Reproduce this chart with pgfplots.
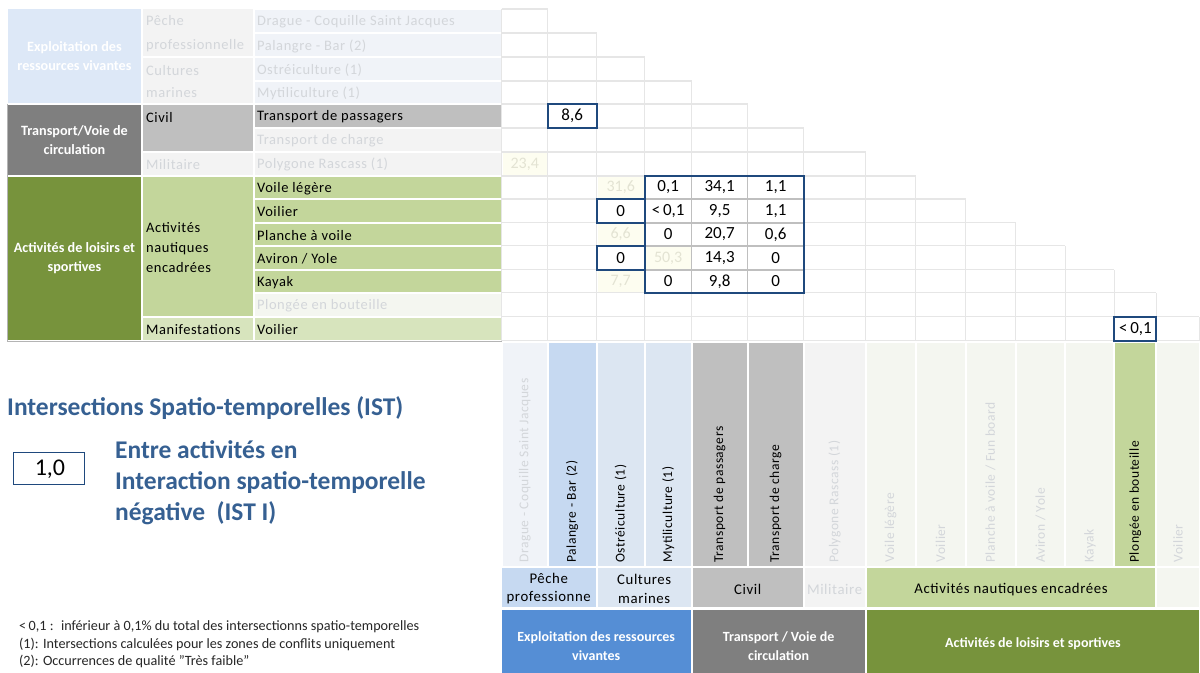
\documentclass[border=0pt]{standalone}
\usepackage{pgfplots}
\pgfplotsset{compat=1.18}
\usepackage{pgfplotstable}
\usepackage{fontspec}
\setmainfont{Carlito}
\newfontfamily\tabfont[LetterSpace=4]{Carlito}
\definecolor{bA}{HTML}{558ED5}
\definecolor{bB}{HTML}{C6D9F1}
\definecolor{bC}{HTML}{DCE6F2}
\definecolor{gA}{HTML}{7F7F7F}
\definecolor{gB}{HTML}{BFBFBF}
\definecolor{vA}{HTML}{77933C}
\definecolor{vB}{HTML}{C3D69B}
\definecolor{vC}{HTML}{D7E4BD}
\definecolor{fBA}{HTML}{DDE8F7}
\definecolor{fB}{HTML}{F0F3F8}
\definecolor{fG}{HTML}{F3F3F3}
\definecolor{fV}{HTML}{F4F6F0}
\definecolor{fT}{HTML}{D3D6DA}
\definecolor{fY}{HTML}{FDFDF0}
\definecolor{fYt}{HTML}{E3E3D3}
\definecolor{navy}{HTML}{1F497D}
\definecolor{ttl}{HTML}{366092}
\definecolor{gridc}{HTML}{E6E6E6}
\definecolor{ing}{HTML}{BFBFBF}
\definecolor{shd}{HTML}{B4B4B4}

\pgfplotstableread{
x y lab
572.5 116 8,6
668.5 187.5 0,1
720 187.5 34,1
776 187.5 1,1
621 211 0
668.5 211 <\,0,1
720 211 9,5
776 211 1,1
668.5 234.5 0
720 234.5 20,7
776 234.5 0,6
621 258 0
720 258 14,3
776 258 0
668.5 281.5 0
720 281.5 9,8
776 281.5 0
1136 329 <\,0,1
}\vals

\pgfplotstableread{
x y lab
525 164 23,4
621 187.5 31,6
621 234.5 6,6
668.5 258 50,3
621 281.5 7,7
}\fadedvals

\tikzset{
  tl/.style={anchor=west, inner sep=0pt, font=\tabfont\fontsize{14.5}{19}\selectfont},
  rl/.style={anchor=west, rotate=90, inner sep=0pt, font=\tabfont\fontsize{13.5}{16}\selectfont},
  l1/.style={align=center, inner sep=0pt, text=white, font=\bfseries\fontsize{14.2}{19.5}\selectfont},
  l2/.style={anchor=west, align=left, inner sep=0pt, font=\tabfont\fontsize{14.5}{20}\selectfont},
  b2/.style={align=center, inner sep=0pt, font=\tabfont\fontsize{14.8}{18.5}\selectfont},
  b1/.style={align=center, inner sep=0pt, text=white, font=\bfseries\fontsize{14}{19}\selectfont},
}

\begin{document}
\begin{tikzpicture}
\begin{axis}[x=1pt, y=1pt, xmin=0, xmax=1200, ymin=0, ymax=673, y dir=reverse,
  hide axis, clip=false]
\path (0,0) rectangle (1200,673);

% ---------- left table: level 1
\fill[fBA] (8,9) rectangle (141,103);
\node[l1] at (74.5,56) {Exploitation des\\ressources vivantes};
\fill[gA] (8,105) rectangle (141,175);
\node[l1] at (74.5,140) {Transport/Voie de\\circulation};
\fill[vA] (8,177) rectangle (141,340);
\node[l1] at (74.5,258) {Activités de loisirs et\\sportives};
\draw[shd, line width=1.5] (7.5,104) -- (7.5,341.5) -- (502,341.5);

% ---------- left table: level 2
\fill[fG] (143,9) rectangle (253,56);
\node[l2, text=fT, font=\tabfont\fontsize{14.5}{24}\selectfont] at (146,34) {Pêche\\professionnelle};
\fill[fG] (143,58) rectangle (253,103);
\node[l2, text=fT, font=\tabfont\fontsize{14.5}{22}\selectfont] at (146,82) {Cultures\\marines};
\fill[gB] (143,105) rectangle (253,151);
\node[l2] at (146,118) {Civil};
\fill[fG] (143,153) rectangle (253,175);
\node[l2, text=fT] at (146,164.5) {Militaire};
\fill[vB] (143,177) rectangle (253,316);
\node[l2] at (146,248) {Activités\\nautiques\\encadrées};
\fill[vC] (143,318) rectangle (253,340);
\node[l2] at (146,329.5) {Manifestations};

% ---------- left table: level 3
\fill[fB] (255,10) rectangle (501,32);
\fill[fB] (255,34) rectangle (501,56);
\fill[fB] (255,58) rectangle (501,80);
\fill[fB] (255,82) rectangle (501,103);
\fill[gB] (255,105) rectangle (501,127);
\fill[fG] (255,129) rectangle (501,151);
\fill[fG] (255,153) rectangle (501,175);
\fill[vB] (255,177) rectangle (501,198);
\fill[vB] (255,200) rectangle (501,222);
\fill[vB] (255,224) rectangle (501,245);
\fill[vB] (255,247) rectangle (501,269);
\fill[vB] (255,271) rectangle (501,292);
\fill[fV] (255,294) rectangle (501,316);
\fill[vC] (255,318) rectangle (501,340);
\node[tl, text=fT] at (257,22) {Drague - Coquille Saint Jacques};
\node[tl, text=fT] at (257,46) {Palangre - Bar (2)};
\node[tl, text=fT] at (257,70) {Ostréiculture (1)};
\node[tl, text=fT] at (257,93.5) {Mytiliculture (1)};
\node[tl] at (257,117) {Transport de passagers};
\node[tl, text=fT] at (257,141) {Transport de charge};
\node[tl, text=fT] at (257,165) {Polygone Rascass (1)};
\node[tl] at (257,188.5) {Voile légère};
\node[tl] at (257,212) {Voilier};
\node[tl] at (257,235.5) {Planche à voile};
\node[tl] at (257,259) {Aviron / Yole};
\node[tl] at (257,282.5) {Kayak};
\node[tl, text=fT] at (257,306) {Plongée en bouteille};
\node[tl] at (257,330) {Voilier};

% ---------- triangular matrix grid
\draw[gridc, line width=1.2]
  (502,9) -- (548,9)  (502,33) -- (597,33)  (502,57) -- (645,57)
  (502,81) -- (692,81)  (502,104) -- (748,104)  (502,128) -- (804,128)
  (502,152) -- (866,152)  (502,176) -- (916,176)  (502,199) -- (966,199)
  (502,223) -- (1016,223)  (502,246) -- (1066,246)  (502,270) -- (1115,270)
  (502,293) -- (1157,293)  (502,317) -- (1200,317)  (502,341) -- (1200,341)
  (502,9) -- (502,341)  (548,9) -- (548,341)  (597,33) -- (597,341)
  (645,57) -- (645,341)  (692,81) -- (692,341)  (748,104) -- (748,341)
  (804,128) -- (804,341)  (866,152) -- (866,341)  (916,176) -- (916,341)
  (966,199) -- (966,341)  (1016,223) -- (1016,341)  (1066,246) -- (1066,341)
  (1115,270) -- (1115,341)  (1157,293) -- (1157,341)  (1200,317) -- (1200,341);

% faded cells
\fill[fY] (503,153) rectangle (547,175);
\fill[fY] (598,177) rectangle (644,198);
\fill[fY] (598,224) rectangle (644,245);
\fill[fY] (646,247) rectangle (691,269);
\fill[fY] (598,271) rectangle (644,292);

% inner grey lines of the block
\draw[ing, line width=1.6] (692,176) -- (692,293) (748,176) -- (748,293)
  (645,199) -- (804,199) (645,223) -- (804,223) (645,246) -- (804,246) (645,270) -- (804,270);

% values
\addplot[draw=none, mark=none, nodes near coords, point meta=explicit symbolic,
  every node near coord/.append style={anchor=center, inner sep=0pt, text=black,
  font=\fontsize{17}{19}\selectfont}]
  table[x=x, y=y, meta=lab] {\vals};
\addplot[draw=none, mark=none, nodes near coords, point meta=explicit symbolic,
  every node near coord/.append style={anchor=center, inner sep=0pt, text=fYt,
  font=\fontsize{16}{19}\selectfont}]
  table[x=x, y=y, meta=lab] {\fadedvals};

% boxes
\draw[navy, line width=2] (548,104) rectangle (597,128);
\draw[navy, line width=2] (645,176) rectangle (804,293);
\draw[navy, line width=2] (645,199) -- (597,199) -- (597,223) -- (645,223);
\draw[navy, line width=2] (645,246) -- (597,246) -- (597,270) -- (645,270);
\draw[navy, line width=2] (1115,317) rectangle (1157,341);

% ---------- bottom: rotated labels
\fill[fB] (503,343) rectangle (547,566);
\fill[bB] (549,343) rectangle (596,566);
\fill[bC] (598,343) rectangle (644,566);
\fill[bC] (646,343) rectangle (691,566);
\fill[gB] (693,343) rectangle (747,566);
\fill[gB] (749,343) rectangle (803,566);
\fill[fG] (805,343) rectangle (865,566);
\fill[fV] (867,343) rectangle (915,566);
\fill[fV] (917,343) rectangle (965,566);
\fill[fV] (967,343) rectangle (1015,566);
\fill[fV] (1017,343) rectangle (1065,566);
\fill[fV] (1067,343) rectangle (1114,566);
\fill[vB] (1116,343) rectangle (1156,566);
\fill[fV] (1158,343) rectangle (1200,566);
\node[rl, text=fT] at (525,563) {Drague - Coquille Saint Jacques};
\node[rl] at (572.5,563) {Palangre - Bar (2)};
\node[rl] at (621,563) {Ostréiculture (1)};
\node[rl] at (668.5,563) {Mytiliculture (1)};
\node[rl] at (720,563) {Transport de passagers};
\node[rl] at (776,563) {Transport de charge};
\node[rl, text=fT] at (835,563) {Polygone Rascass (1)};
\node[rl, text=fT] at (891,563) {Voile légère};
\node[rl, text=fT] at (941,563) {Voilier};
\node[rl, text=fT] at (991,563) {Planche à voile / Fun board};
\node[rl, text=fT] at (1041,563) {Aviron / Yole};
\node[rl, text=fT] at (1090.5,563) {Kayak};
\node[rl] at (1136,563) {Plongée en bouteille};
\node[rl, text=fT] at (1178.5,563) {Voilier};

% bottom level 2
\fill[bB] (502,568) rectangle (596,607);
\node[b2] at (549,589) {Pêche\\professionne};
\fill[bC] (598,568) rectangle (691,607);
\node[b2] at (644.5,589) {Cultures\\marines};
\fill[gB] (693,568) rectangle (803,607);
\node[b2] at (748,590) {Civil};
\fill[fG] (805,568) rectangle (865,607);
\node[b2, text=fT] at (835,590) {Militaire};
\fill[vB] (867,568) rectangle (1156,607);
\node[b2] at (1011.5,590) {Activités nautiques encadrées};
\fill[fV] (1158,568) rectangle (1200,607);

% bottom level 1
\fill[bA] (502,610) rectangle (691,673);
\node[b1] at (596.5,646) {Exploitation des ressources\\vivantes};
\fill[gA] (693,610) rectangle (865,673);
\node[b1] at (779,646) {Transport / Voie de\\circulation};
\fill[vA] (867,610) rectangle (1200,673);
\node[b1] at (1033.5,644) {Activités de loisirs et sportives};

% ---------- legend block
\node[anchor=west, inner sep=0pt, text=ttl, font=\bfseries\fontsize{25.5}{28}\selectfont] at (7,408) {Intersections Spatio-temporelles (IST)};
\draw[navy, line width=1.5] (13.5,452.5) rectangle (84.5,484.5);
\node[inner sep=0pt, font=\fontsize{24}{26}\selectfont] at (50,469) {1,0};
\node[anchor=west, align=left, inner sep=0pt, text=ttl, font=\bfseries\fontsize{25.5}{31}\selectfont] at (115,483) {Entre activités en\\Interaction spatio-temporelle\\négative~ (IST I)};
\node[anchor=west, align=left, inner sep=0pt, text=black!85, font=\fontsize{14.2}{17.5}\selectfont] at (19,645) {<\,0,1 :~ inférieur à 0,1\% du total des intersectionns spatio-temporelles\\(1): Intersections calculées pour les zones de conflits uniquement\\(2): Occurrences de qualité \symbol{34}Très faible\symbol{34}};
\end{axis}
\end{tikzpicture}
\end{document}
